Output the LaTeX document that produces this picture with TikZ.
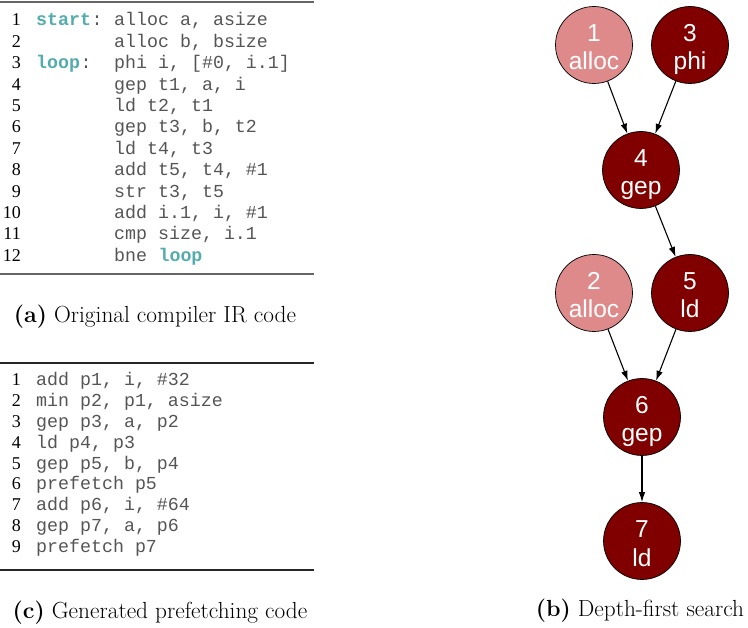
\documentclass[tikz,border=0pt]{standalone}
\usepackage{fontspec}
\usetikzlibrary{arrows.meta}
\newfontfamily\codefont{Liberation Mono}
\newfontfamily\numfont{Liberation Serif}
\newfontfamily\circfont{Liberation Sans}
\definecolor{darkred}{RGB}{128,0,0}
\definecolor{lightred}{RGB}{222,138,138}
\definecolor{teal2}{RGB}{85,172,172}
\definecolor{codegray}{RGB}{85,85,85}
\tikzset{
  num/.style={anchor=base east, inner sep=0, font=\numfont\fontsize{18}{20}\selectfont},
  code/.style={anchor=base west, inner sep=0, text=codegray, font=\codefont\fontsize{18.3}{20}\selectfont},
  kw/.style={anchor=base west, inner sep=0, text=teal2, font=\codefont\bfseries\fontsize{18.3}{20}\selectfont},
  captext/.style={anchor=base, inner sep=0, font=\fontsize{23.3}{28}\selectfont},
  circ/.style={circle, draw=black, line width=0.7pt, minimum size=77pt, inner sep=0},
  ctext/.style={anchor=base, inner sep=0, text=white, font=\circfont\fontsize{24.5}{28}\selectfont},
  edge/.style={-{Latex[length=10pt,width=6.5pt]}, line width=1.1pt, black},
  rulea/.style={line width=1.6pt, black!60},
  rulec/.style={line width=1.3pt, black!85},
}
\newcommand{\cnode}[6]{%
  \node[circ, fill=#6] (#1) at (#2,#3) {};
  \node[ctext] (#1num) at (#2,#3-3) {#4};
  \node[ctext] (#1op) at (#2,#3+25) {#5};
}
\begin{document}
\begin{tikzpicture}[x=1pt,y=-1pt]
\useasboundingbox (0,0) rectangle (748,628);
% panel (a)
\coordinate (ra1) at (0,2); \coordinate (ra2) at (314,2);
\coordinate (rb1) at (0,274); \coordinate (rb2) at (314,274);
\draw[rulea] (ra1) -- (ra2);
\draw[rulea] (rb1) -- (rb2);
\def\ya{26}\def\dy{21.4}
\node[num] (a1) at (21,\ya) {1};
\node[kw] (k1) at (36,\ya) {start};
\node[code] (c1c) at (k1.base east) {:};
\node[code] (c1) at (114,\ya) {alloc a, asize};
\node[num] (a2) at (21,\ya+\dy) {2};
\node[code] (c2) at (114,\ya+\dy) {alloc b, bsize};
\node[num] (a3) at (21,\ya+2*\dy) {3};
\node[kw] (k3) at (36,\ya+2*\dy) {loop};
\node[code] (c3c) at (k3.base east) {:};
\node[code] (c3) at (114,\ya+2*\dy) {phi i, [\#0, i.1]};
\node[num] (a4) at (21,\ya+3*\dy) {4};
\node[code] (c4) at (114,\ya+3*\dy) {gep t1, a, i};
\node[num] (a5) at (21,\ya+4*\dy) {5};
\node[code] (c5) at (114,\ya+4*\dy) {ld t2, t1};
\node[num] (a6) at (21,\ya+5*\dy) {6};
\node[code] (c6) at (114,\ya+5*\dy) {gep t3, b, t2};
\node[num] (a7) at (21,\ya+6*\dy) {7};
\node[code] (c7) at (114,\ya+6*\dy) {ld t4, t3};
\node[num] (a8) at (21,\ya+7*\dy) {8};
\node[code] (c8) at (114,\ya+7*\dy) {add t5, t4, \#1};
\node[num] (a9) at (21,\ya+8*\dy) {9};
\node[code] (c9) at (114,\ya+8*\dy) {str t3, t5};
\node[num] (a10) at (21,\ya+9*\dy) {10};
\node[code] (c10) at (114,\ya+9*\dy) {add i.1, i, \#1};
\node[num] (a11) at (21,\ya+10*\dy) {11};
\node[code] (c11) at (114,\ya+10*\dy) {cmp size, i.1};
\node[num] (a12) at (21,\ya+11*\dy) {12};
\node[code] (c12) at (114,\ya+11*\dy) {bne};
\node[kw] (k12) at ([xshift=11pt]c12.base east) {loop};
\node[captext] (capa) at (155,323) {\textbf{(a)} Original compiler IR code};
% panel (c)
\coordinate (rc1) at (0,363); \coordinate (rc2) at (314,363);
\coordinate (rd1) at (0,570); \coordinate (rd2) at (314,570);
\draw[rulec] (rc1) -- (rc2);
\draw[rulec] (rd1) -- (rd2);
\def\yc{386}\def\dc{20.8}
\node[num] (b1) at (21,\yc) {1};
\node[code] (d1) at (36,\yc) {add p1, i, \#32};
\node[num] (b2) at (21,\yc+\dc) {2};
\node[code] (d2) at (36,\yc+\dc) {min p2, p1, asize};
\node[num] (b3) at (21,\yc+2*\dc) {3};
\node[code] (d3) at (36,\yc+2*\dc) {gep p3, a, p2};
\node[num] (b4) at (21,\yc+3*\dc) {4};
\node[code] (d4) at (36,\yc+3*\dc) {ld p4, p3};
\node[num] (b5) at (21,\yc+4*\dc) {5};
\node[code] (d5) at (36,\yc+4*\dc) {gep p5, b, p4};
\node[num] (b6) at (21,\yc+5*\dc) {6};
\node[code] (d6) at (36,\yc+5*\dc) {prefetch p5};
\node[num] (b7) at (21,\yc+6*\dc) {7};
\node[code] (d7) at (36,\yc+6*\dc) {add p6, i, \#64};
\node[num] (b8) at (21,\yc+7*\dc) {8};
\node[code] (d8) at (36,\yc+7*\dc) {gep p7, a, p6};
\node[num] (b9) at (21,\yc+8*\dc) {9};
\node[code] (d9) at (36,\yc+8*\dc) {prefetch p7};
\node[captext] (capc) at (160,618) {\textbf{(c)} Generated prefetching code};
% panel (b)
\cnode{n1}{594}{45}{1}{alloc}{lightred}
\cnode{n3}{690}{45}{3}{phi}{darkred}
\cnode{n4}{641}{170}{4}{gep}{darkred}
\cnode{n2}{594}{293}{2}{alloc}{lightred}
\cnode{n5}{690}{293}{5}{ld}{darkred}
\cnode{n6}{642}{417}{6}{gep}{darkred}
\cnode{n7}{642}{541}{7}{ld}{darkred}
\draw[edge] (n1) -- (n4);
\draw[edge] (n3) -- (n4);
\draw[edge] (n4) -- (n5);
\draw[edge] (n2) -- (n6);
\draw[edge] (n5) -- (n6);
\draw[edge] (n6) -- (n7);
\node[captext] (capb) at (640,616) {\textbf{(b)} Depth-first search};
\end{tikzpicture}
\end{document}
